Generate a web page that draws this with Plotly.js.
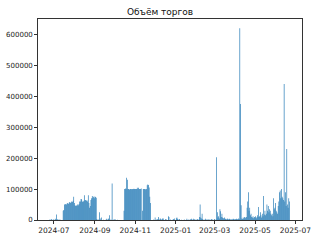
<!DOCTYPE html>
<html><head><meta charset="utf-8">
<script src="https://cdn.plot.ly/plotly-3.0.1.min.js"></script>
<style>html,body{margin:0;padding:0;background:#fff}#chart{width:320px;height:240px}
.barlayer path{shape-rendering:geometricPrecision !important}</style>
</head><body><div id="chart"></div>
<script>
// Daily trading volume, first day 2024-06-24
const startDate = '2024-06-24';
const jun2024 = [0,2000,0,3000,1000,0,2000];
const jul2024 = [1000,0,4000,2000,18000,3000,0,1000,2000,0,1000,0,0,0,30000,32000,50000,50000,52000,50000,53000,55000,52000,56000,58000,55000,57000,60000,58000,62000,75000];
const aug2024 = [55000,48000,45000,47000,46000,50000,48000,52000,60000,60000,68000,67000,58000,62000,60000,80000,63000,65000,62000,64000,60000,80000,55000,40000,45000,65000,70000,78000,72000,75000,70000];
const sep2024 = [76000,74000,72000,3000,0,2000,0,25000,5000,0,8000,0,0,1000,0,0,0,2000,4000,0,3000,5000,15000,2000,0,1000,118000,0,0,3000];
const oct2024 = [0,2000,0,0,1000,0,0,0,0,0,0,0,0,0,30000,100000,102000,100000,137000,130000,100000,100000,98000,100000,100000,100000,99000,100000,100000,101000,100000];
const nov2024 = [100000,100000,100000,104000,100000,104000,100000,100000,100000,102000,0,30000,100000,100000,100000,100000,98000,100000,112000,115000,113000,105000,75000,55000,0,0,0,0,2000,0];
const dec2024 = [8000,0,2000,0,3000,10000,4000,0,5000,3000,0,4000,6000,2000,0,0,3000,2000,0,0,12000,10000,0,2000,0,0,1000,0,3000,5000,0];
const jan2025 = [0,6000,8000,4000,2000,0,3000,0,0,1000,0,0,0,2000,0,0,0,4000,0,2000,0,0,3000,0,4000,2000,0,4000,0,3000,0];
const feb2025 = [2000,0,3000,0,2000,10000,50000,8000,5000,20000,3000,0,2000,0,4000,0,2000,0,3000,0,1000,2000,0,3000,0,2000,0,1000];
const mar2025 = [3000,0,2000,203000,25000,8000,12000,5000,35000,28000,10000,20000,8000,6000,5000,8000,4000,3000,2000,5000,3000,2000,4000,3000,2000,0,3000,2000,4000,3000,2000];
const apr2025 = [3000,2000,4000,3000,2000,5000,3000,620000,375000,48000,5000,3000,8000,5000,10000,6000,8000,10000,40000,60000,90000,30000,40000,15000,20000,10000,8000,12000,6000,10000];
const may2025 = [8000,12000,6000,10000,15000,42000,10000,12000,25000,15000,8000,20000,12000,78000,18000,30000,15000,20000,50000,30000,45000,25000,35000,30000,20000,15000,20000,12000,70000,35000,40000];
const jun2025 = [55000,30000,25000,20000,45000,60000,90000,95000,70000,100000,75000,70000,65000,440000,60000,90000,45000,230000,50000,40000,70000,60000];

const volumes = [].concat(jun2024,jul2024,aug2024,sep2024,oct2024,nov2024,dec2024,jan2025,feb2025,mar2025,apr2025,may2025,jun2025);
const dates = volumes.map((v,i)=>{const d=new Date(startDate+'T00:00:00Z'); d.setUTCDate(d.getUTCDate()+i); return d.toISOString().slice(0,10);});

const font = {family:'DejaVu Sans', size:7.5, color:'#222'};
Plotly.newPlot('chart',[{
  type:'bar', x:dates, y:volumes,
  width: 1.0*86400000,
  marker:{color:'#1f77b4', line:{width:0}},
  hoverinfo:'skip'
}],{
  width:320, height:240,
  margin:{l:38,r:18,t:19,b:20},
  paper_bgcolor:'#fff', plot_bgcolor:'#fff',
  title:{text:'Объём торгов', font:{family:'DejaVu Sans', size:9, color:'#111'}, x:0.5, xanchor:'center', y:0.95, yanchor:'middle'},
  showlegend:false,
  bargap:0,
  xaxis:{type:'date', range:['2024-06-07','2025-07-11'], tick0:'2024-07-01', dtick:'M2', tickformat:'%Y-%m',
    showgrid:false, zeroline:false, showline:true, mirror:true, linecolor:'#000', linewidth:0.8,
    ticks:'outside', ticklen:3, tickwidth:0.8, tickcolor:'#000', tickfont:font},
  yaxis:{range:[0,650000], dtick:100000, tickformat:'d',
    showgrid:false, zeroline:false, showline:true, mirror:true, linecolor:'#000', linewidth:0.8,
    ticks:'outside', ticklen:3, tickwidth:0.8, tickcolor:'#000', tickfont:{family:'DejaVu Sans', size:7, color:'#222'}}
},{staticPlot:true}).then(()=>{
  document.querySelectorAll('.barlayer path').forEach(p=>p.style.shapeRendering='geometricPrecision');
});
</script></body></html>
